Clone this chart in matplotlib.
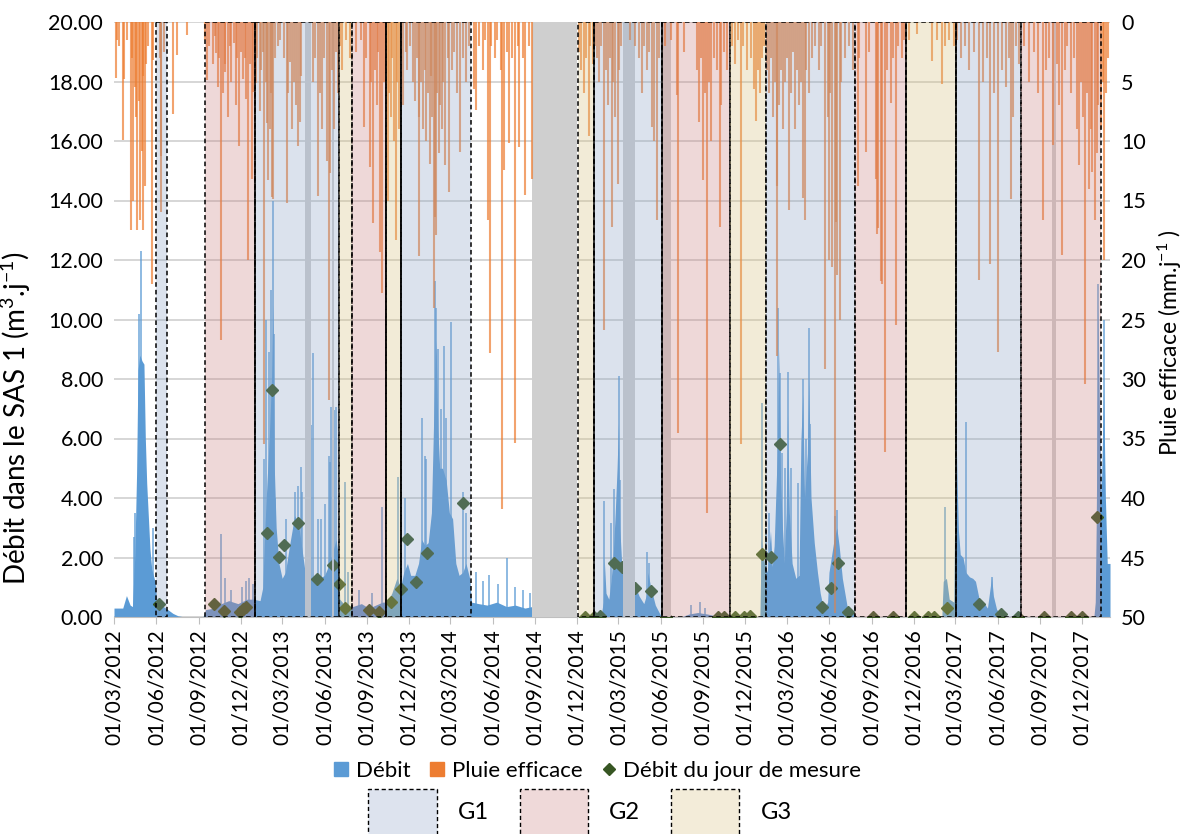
import matplotlib
matplotlib.use('Agg')
import matplotlib.pyplot as plt
import matplotlib.dates as mdates
from matplotlib.patches import Rectangle, Patch
from matplotlib.lines import Line2D
import pandas as pd

plt.rcParams['font.family'] = ['Lato', 'DejaVu Sans']
plt.rcParams['mathtext.fontset'] = 'custom'
plt.rcParams['mathtext.rm'] = 'Lato'
plt.rcParams['mathtext.it'] = 'Lato:italic'

# débit journalier (enveloppe), m3/j
debit = [
    ('2012-03-01', 0.30), ('2012-03-20', 0.30), ('2012-03-28', 0.72), ('2012-04-05', 0.40),
    ('2012-04-10', 0.35), ('2012-04-15', 2.0), ('2012-04-19', 4.8), ('2012-04-22', 8.3),
    ('2012-04-26', 8.8), ('2012-05-01', 8.6), ('2012-05-05', 8.5), ('2012-05-08', 6.0),
    ('2012-05-11', 4.5), ('2012-05-18', 2.3), ('2012-05-22', 1.6), ('2012-05-29', 1.2),
    ('2012-06-02', 0.55), ('2012-06-09', 0.42), ('2012-06-23', 0.28), ('2012-07-07', 0.12),
    ('2012-07-18', 0.04), ('2012-08-02', 0.0), ('2012-09-10', 0.0), ('2012-09-16', 0.25),
    ('2012-10-05', 0.3), ('2012-10-20', 0.45), ('2012-11-05', 0.55), ('2012-11-25', 0.45),
    ('2012-12-15', 0.6), ('2012-12-28', 0.6), ('2013-01-12', 0.55), ('2013-01-18', 1.0),
    ('2013-01-22', 2.8), ('2013-01-27', 4.5), ('2013-02-01', 6.0), ('2013-02-06', 8.0),
    ('2013-02-09', 10.5), ('2013-02-12', 5.0), ('2013-02-16', 3.0), ('2013-02-22', 1.8),
    ('2013-03-01', 1.3), ('2013-03-08', 1.5), ('2013-03-17', 2.4), ('2013-03-28', 3.4),
    ('2013-04-05', 3.2), ('2013-04-12', 2.4), ('2013-04-19', 1.6), ('2013-05-04', 1.3),
    ('2013-05-14', 1.2), ('2013-05-21', 1.3), ('2013-06-01', 1.4), ('2013-06-12', 1.8),
    ('2013-06-19', 2.2), ('2013-06-26', 2.6), ('2013-07-01', 2.0), ('2013-07-04', 0.6),
    ('2013-07-15', 0.4), ('2013-08-01', 0.35), ('2013-08-20', 0.45), ('2013-09-05', 0.3),
    ('2013-09-20', 0.4), ('2013-10-05', 0.5), ('2013-10-15', 0.5), ('2013-10-25', 0.8),
    ('2013-11-05', 1.3), ('2013-11-13', 1.0), ('2013-11-20', 1.5), ('2013-11-28', 1.8),
    ('2013-12-05', 1.4), ('2013-12-14', 1.4), ('2013-12-22', 1.8), ('2013-12-29', 2.6),
    ('2014-01-05', 2.4), ('2014-01-12', 2.5), ('2014-01-19', 3.5), ('2014-01-26', 8.0),
    ('2014-01-29', 9.3), ('2014-02-02', 6.3), ('2014-02-06', 5.0), ('2014-02-12', 5.0),
    ('2014-02-20', 4.6), ('2014-02-27', 3.5), ('2014-03-06', 3.3), ('2014-03-13', 1.8),
    ('2014-03-20', 1.4), ('2014-03-28', 1.5), ('2014-04-04', 1.8), ('2014-04-12', 1.3),
    ('2014-04-16', 0.5), ('2014-05-01', 0.45), ('2014-05-20', 0.4), ('2014-06-10', 0.5),
    ('2014-07-01', 0.35), ('2014-07-20', 0.4), ('2014-08-10', 0.3), ('2014-08-25', 0.35),
    ('2014-08-26', 0.0), ('2015-01-22', 0.0), ('2015-01-27', 0.5), ('2015-01-29', 2.0),
    ('2015-02-02', 0.8), ('2015-02-08', 0.6), ('2015-02-13', 1.2), ('2015-02-18', 2.2),
    ('2015-02-22', 3.5), ('2015-02-26', 5.0), ('2015-03-01', 6.5), ('2015-03-04', 3.0),
    ('2015-03-09', 1.5), ('2015-04-07', 1.0), ('2015-04-15', 0.7), ('2015-04-25', 0.45),
    ('2015-05-02', 0.8), ('2015-05-04', 1.5), ('2015-05-10', 1.0), ('2015-05-20', 0.4),
    ('2015-05-30', 0.1), ('2015-06-04', 0.0), ('2015-07-15', 0.0), ('2015-08-01', 0.1),
    ('2015-08-20', 0.15), ('2015-09-10', 0.1), ('2015-09-25', 0.05), ('2015-10-05', 0.0),
    ('2016-01-02', 0.0), ('2016-01-05', 2.6), ('2016-01-12', 1.8), ('2016-01-18', 1.5),
    ('2016-01-25', 2.9), ('2016-01-29', 1.7), ('2016-02-02', 2.4), ('2016-02-09', 5.7),
    ('2016-02-12', 9.0), ('2016-02-16', 4.5), ('2016-02-20', 3.0), ('2016-02-24', 1.8),
    ('2016-02-28', 3.5), ('2016-03-02', 6.8), ('2016-03-06', 3.5), ('2016-03-12', 1.8),
    ('2016-03-20', 1.3), ('2016-03-27', 1.4), ('2016-03-31', 5.9), ('2016-04-04', 7.5),
    ('2016-04-08', 4.0), ('2016-04-14', 5.5), ('2016-04-17', 8.0), ('2016-04-22', 4.0),
    ('2016-04-29', 2.5), ('2016-05-06', 1.5), ('2016-05-12', 0.8), ('2016-05-20', 0.2),
    ('2016-05-28', 0.5), ('2016-05-31', 1.5), ('2016-06-05', 2.0), ('2016-06-11', 2.6),
    ('2016-06-17', 3.0), ('2016-06-22', 2.4), ('2016-06-29', 1.3), ('2016-07-10', 0.3),
    ('2016-07-25', 0.1), ('2016-07-28', 0.0), ('2017-01-31', 0.0), ('2017-02-03', 1.2),
    ('2017-02-10', 1.3), ('2017-02-16', 0.6), ('2017-02-26', 0.5), ('2017-03-02', 6.8),
    ('2017-03-05', 4.6), ('2017-03-08', 2.9), ('2017-03-12', 2.1), ('2017-03-18', 2.0),
    ('2017-03-24', 1.5), ('2017-04-01', 1.35), ('2017-04-08', 1.3), ('2017-04-14', 1.2),
    ('2017-04-22', 0.6), ('2017-05-01', 0.5), ('2017-05-10', 0.3), ('2017-05-16', 1.0),
    ('2017-05-19', 1.35), ('2017-05-23', 0.7), ('2017-05-30', 0.25), ('2017-06-10', 0.1),
    ('2017-06-25', 0.0), ('2017-12-27', 0.0), ('2017-12-30', 0.5), ('2018-01-01', 3.0),
    ('2018-01-03', 6.6), ('2018-01-05', 10.5), ('2018-01-08', 7.0), ('2018-01-12', 4.1),
    ('2018-01-17', 7.7), ('2018-01-21', 4.0), ('2018-01-25', 1.8), ('2018-01-31', 1.8),
]

# pics de débit isolés
debit_pics = [
    ('2012-04-13', 2.7), ('2012-04-15', 3.5), ('2012-04-24', 10.2), ('2012-04-29', 12.3),
    ('2012-05-25', 3.0), ('2012-10-20', 2.8), ('2012-10-28', 1.3), ('2012-11-10', 0.9),
    ('2012-12-03', 1.0), ('2012-12-12', 1.2), ('2012-12-20', 1.3), ('2012-12-27', 1.1),
    ('2013-01-21', 5.3), ('2013-01-25', 10.0), ('2013-02-01', 8.9), ('2013-02-04', 11.0),
    ('2013-02-09', 14.0), ('2013-02-11', 9.5), ('2013-02-14', 4.0), ('2013-03-10', 3.3),
    ('2013-03-28', 4.2), ('2013-04-04', 4.4), ('2013-04-12', 5.05), ('2013-04-14', 4.2),
    ('2013-05-03', 6.45), ('2013-05-08', 8.86), ('2013-05-18', 3.3), ('2013-05-25', 3.3),
    ('2013-06-01', 3.8), ('2013-06-10', 5.4), ('2013-06-13', 5.2), ('2013-06-16', 7.07),
    ('2013-06-21', 6.96), ('2013-06-25', 7.07), ('2013-07-15', 4.55), ('2013-07-22', 1.5),
    ('2013-08-15', 0.9), ('2013-09-12', 0.8), ('2013-10-03', 3.7), ('2013-11-07', 4.7),
    ('2013-11-22', 4.0), ('2013-12-29', 6.7), ('2014-01-04', 5.4), ('2014-01-08', 5.3),
    ('2014-01-26', 11.3), ('2014-01-29', 10.4), ('2014-02-02', 9.0), ('2014-02-08', 7.0),
    ('2014-02-15', 9.1), ('2014-02-20', 6.7), ('2014-03-02', 9.9), ('2014-03-29', 4.2),
    ('2014-04-04', 3.5), ('2014-04-25', 1.5), ('2014-05-10', 1.2), ('2014-05-25', 1.4),
    ('2014-06-12', 1.1), ('2014-07-02', 2.0), ('2014-07-20', 1.0), ('2014-08-05', 0.9),
    ('2014-08-20', 0.8), ('2015-01-29', 3.9), ('2015-02-13', 3.15), ('2015-02-20', 4.3),
    ('2015-03-02', 8.1), ('2015-03-04', 4.6), ('2015-05-03', 2.2), ('2015-05-06', 1.8),
    ('2015-08-05', 0.4), ('2015-08-25', 0.5), ('2015-09-05', 0.3), ('2016-01-07', 7.2),
    ('2016-01-15', 3.0), ('2016-01-21', 3.5), ('2016-02-11', 10.4), ('2016-02-14', 8.2),
    ('2016-02-19', 5.5), ('2016-02-26', 5.0), ('2016-03-03', 8.25), ('2016-03-09', 5.0),
    ('2016-03-25', 4.5), ('2016-04-04', 8.0), ('2016-04-11', 6.0), ('2016-04-17', 9.7),
    ('2016-04-20', 6.5), ('2016-06-14', 3.4), ('2016-06-18', 3.6), ('2017-02-06', 3.7),
    ('2017-03-03', 8.6), ('2017-03-24', 6.57), ('2017-05-19', 1.35), ('2018-01-04', 11.2),
    ('2018-01-19', 10.0),
]

# pluie efficace, mm/j
pluie = [
    ('2012-03-05', 4.7), ('2012-03-07', 1.5), ('2012-03-12', 2.0), ('2012-03-20', 9.9),
    ('2012-03-23', 4.8), ('2012-03-29', 1.5), ('2012-04-06', 17.5), ('2012-04-09', 3.0),
    ('2012-04-12', 15.0), ('2012-04-15', 5.5), ('2012-04-18', 8.0), ('2012-04-21', 17.5),
    ('2012-04-25', 6.6), ('2012-04-26', 16.6), ('2012-04-30', 10.8), ('2012-05-02', 4.5),
    ('2012-05-04', 17.5), ('2012-05-07', 13.8), ('2012-05-10', 3.5), ('2012-05-14', 2.0),
    ('2012-05-22', 22.0), ('2012-05-25', 3.2), ('2012-06-09', 3.0), ('2012-06-11', 11.3),
    ('2012-06-12', 16.0), ('2012-06-17', 2.5), ('2012-07-07', 7.7), ('2012-07-15', 2.8),
    ('2012-08-07', 1.1),
    ('2012-09-15', 1.5), ('2012-09-18', 4.9), ('2012-09-24', 2.0), ('2012-10-02', 3.5),
    ('2012-10-06', 1.2), ('2012-10-09', 2.6), ('2012-10-12', 5.5), ('2012-10-16', 3.0),
    ('2012-10-20', 26.7), ('2012-10-23', 6.0), ('2012-10-27', 3.5), ('2012-10-29', 4.2),
    ('2012-11-03', 8.0), ('2012-11-07', 2.0), ('2012-11-11', 5.0), ('2012-11-16', 1.8),
    ('2012-11-20', 7.0), ('2012-11-23', 3.0), ('2012-11-27', 10.4), ('2012-12-01', 2.5),
    ('2012-12-06', 4.8), ('2012-12-10', 3.0), ('2012-12-13', 6.5), ('2012-12-17', 20.0),
    ('2012-12-21', 3.5), ('2012-12-25', 13.2), ('2012-12-28', 5.9), ('2012-12-31', 2.5),
    ('2013-01-04', 5.1), ('2013-01-06', 3.0), ('2013-01-11', 7.5), ('2013-01-14', 4.0),
    ('2013-01-18', 2.5), ('2013-01-20', 35.5), ('2013-01-24', 5.0), ('2013-01-27', 8.5),
    ('2013-01-30', 13.3), ('2013-02-02', 9.0), ('2013-02-04', 6.0), ('2013-02-07', 14.7),
    ('2013-02-09', 14.9), ('2013-02-13', 3.0), ('2013-02-19', 2.0), ('2013-02-24', 1.5),
    ('2013-03-05', 3.0), ('2013-03-11', 15.2), ('2013-03-13', 6.0), ('2013-03-17', 3.4),
    ('2013-03-22', 9.0), ('2013-03-26', 5.0), ('2013-03-30', 7.0), ('2013-04-04', 10.4),
    ('2013-04-08', 8.4), ('2013-04-12', 4.5), ('2013-05-06', 5.0), ('2013-05-11', 3.0),
    ('2013-05-18', 14.6), ('2013-05-22', 6.0), ('2013-05-26', 9.0), ('2013-05-31', 3.0),
    ('2013-06-06', 11.7), ('2013-06-10', 31.8), ('2013-06-12', 12.7), ('2013-06-17', 4.0),
    ('2013-06-21', 9.0), ('2013-06-26', 2.5), ('2013-06-30', 6.0),
    ('2013-07-04', 2.0), ('2013-07-10', 4.0), ('2013-07-17', 1.5), ('2013-07-26', 3.0),
    ('2013-08-08', 2.5), ('2013-08-20', 1.5), ('2013-08-26', 8.8), ('2013-08-31', 3.0),
    ('2013-09-07', 12.2), ('2013-09-10', 5.0), ('2013-09-14', 16.9), ('2013-09-18', 4.0),
    ('2013-09-22', 7.0), ('2013-09-26', 2.5), ('2013-09-30', 19.3), ('2013-10-04', 22.8),
    ('2013-10-08', 5.0), ('2013-10-13', 4.0), ('2013-10-16', 15.0), ('2013-10-20', 6.0),
    ('2013-10-23', 8.0), ('2013-10-26', 3.0), ('2013-10-30', 10.0), ('2013-11-03', 18.3),
    ('2013-11-06', 5.0), ('2013-11-10', 9.0),
    ('2013-11-15', 3.0), ('2013-11-19', 7.0), ('2013-11-24', 2.5), ('2013-11-28', 4.0),
    ('2013-12-03', 2.0), ('2013-12-09', 5.0), ('2013-12-14', 6.6), ('2013-12-18', 3.0),
    ('2013-12-22', 8.0), ('2013-12-24', 19.7), ('2013-12-28', 5.0), ('2013-12-31', 9.0),
    ('2014-01-04', 4.0), ('2014-01-08', 10.0), ('2014-01-12', 6.0), ('2014-01-15', 11.9),
    ('2014-01-18', 4.5), ('2014-01-21', 8.0), ('2014-01-24', 24.0), ('2014-01-26', 16.4),
    ('2014-01-28', 17.9), ('2014-01-31', 6.0), ('2014-02-04', 11.0), ('2014-02-07', 7.0),
    ('2014-02-10', 9.0), ('2014-02-14', 5.0), ('2014-02-18', 12.0), ('2014-02-23', 3.0),
    ('2014-02-27', 14.3), ('2014-03-04', 4.0), ('2014-03-10', 2.5), ('2014-03-15', 6.0),
    ('2014-03-21', 10.9), ('2014-03-28', 3.0), ('2014-04-03', 5.0), ('2014-04-11', 2.0),
    ('2014-04-22', 5.6), ('2014-04-26', 7.4), ('2014-05-03', 2.0), ('2014-05-10', 4.0),
    ('2014-05-16', 1.5), ('2014-05-21', 16.6), ('2014-05-27', 27.8), ('2014-05-29', 2.0),
    ('2014-06-05', 3.0), ('2014-06-11', 1.5), ('2014-06-18', 4.0), ('2014-06-22', 40.9),
    ('2014-06-26', 12.4), ('2014-07-01', 2.5), ('2014-07-06', 10.2), ('2014-07-12', 3.0),
    ('2014-07-20', 35.4), ('2014-07-25', 2.0), ('2014-07-29', 10.5), ('2014-08-05', 3.0),
    ('2014-08-11', 14.5), ('2014-08-18', 2.0), ('2014-08-25', 13.2),
    ('2014-12-06', 2.5), ('2014-12-10', 4.0), ('2014-12-17', 6.0), ('2014-12-21', 3.0),
    ('2014-12-26', 9.6), ('2014-12-30', 2.0), ('2015-01-04', 3.5),
    ('2015-01-10', 2.0), ('2015-01-14', 3.0), ('2015-01-18', 5.0), ('2015-01-23', 2.0),
    ('2015-01-29', 25.9), ('2015-02-03', 4.0), ('2015-02-07', 7.0), ('2015-02-11', 3.0),
    ('2015-02-14', 17.2), ('2015-02-18', 5.0), ('2015-02-22', 8.0), ('2015-02-27', 13.6),
    ('2015-03-03', 4.0), ('2015-03-07', 2.0), ('2015-03-25', 1.5), ('2015-04-05', 2.0),
    ('2015-04-15', 3.0), ('2015-04-21', 6.0), ('2015-04-26', 2.0), ('2015-05-03', 4.0),
    ('2015-05-07', 2.5), ('2015-05-13', 8.8), ('2015-05-18', 10.0), ('2015-05-24', 16.6),
    ('2015-05-29', 3.0),
    ('2015-06-09', 2.0), ('2015-06-24', 1.5), ('2015-07-07', 6.1), ('2015-07-09', 34.5),
    ('2015-07-22', 2.5), ('2015-08-19', 4.0), ('2015-08-23', 8.4), ('2015-08-28', 3.0),
    ('2015-09-01', 13.3), ('2015-09-05', 6.0), ('2015-09-09', 41.3), ('2015-09-14', 5.0),
    ('2015-09-18', 10.0), ('2015-09-25', 3.0), ('2015-10-02', 4.0), ('2015-10-07', 17.2),
    ('2015-10-10', 7.0), ('2015-10-17', 2.5), ('2015-10-23', 4.0),
    ('2015-11-03', 2.0), ('2015-11-09', 3.5), ('2015-11-16', 1.5), ('2015-11-22', 35.5),
    ('2015-11-27', 2.0), ('2015-12-06', 4.0), ('2015-12-14', 3.0), ('2015-12-21', 5.6),
    ('2015-12-25', 8.3), ('2015-12-29', 4.0), ('2016-01-03', 6.0), ('2016-01-07', 3.0),
    ('2016-01-11', 2.0),
    ('2016-01-18', 4.0), ('2016-01-22', 6.0), ('2016-01-26', 3.0), ('2016-01-31', 8.0),
    ('2016-02-04', 5.0), ('2016-02-08', 28.1), ('2016-02-09', 13.8), ('2016-02-13', 7.0),
    ('2016-02-17', 4.0), ('2016-02-21', 9.0), ('2016-02-26', 5.0), ('2016-03-01', 3.0),
    ('2016-03-06', 15.8), ('2016-03-10', 6.0), ('2016-03-14', 2.5), ('2016-03-19', 9.0),
    ('2016-03-23', 4.0), ('2016-03-27', 7.0), ('2016-04-01', 5.0), ('2016-04-05', 14.8),
    ('2016-04-09', 16.6), ('2016-04-12', 4.0), ('2016-04-18', 6.0), ('2016-04-25', 3.0),
    ('2016-05-01', 2.0), ('2016-05-10', 4.0), ('2016-05-14', 2.0), ('2016-05-22', 29.2),
    ('2016-05-28', 8.0), ('2016-05-31', 20.0), ('2016-06-03', 6.0), ('2016-06-07', 20.6),
    ('2016-06-13', 49.7), ('2016-06-16', 16.8), ('2016-06-18', 21.3), ('2016-06-23', 25.0),
    ('2016-06-26', 5.0), ('2016-07-05', 3.0), ('2016-07-13', 2.0), ('2016-07-22', 4.0),
    ('2016-08-01', 13.8), ('2016-08-05', 3.0), ('2016-08-19', 10.9), ('2016-08-26', 2.5),
    ('2016-09-09', 13.2), ('2016-09-13', 17.8), ('2016-09-15', 17.3), ('2016-09-20', 21.8),
    ('2016-09-24', 22.0), ('2016-09-29', 36.1), ('2016-10-04', 4.0), ('2016-10-12', 6.8),
    ('2016-10-17', 3.0), ('2016-10-23', 25.5), ('2016-10-28', 2.0), ('2016-11-06', 3.0),
    ('2016-11-10', 1.5),
    ('2016-11-21', 1.5), ('2016-12-08', 1.0), ('2017-01-09', 3.3), ('2017-01-20', 1.5),
    ('2017-02-01', 5.2), ('2017-02-07', 2.0), ('2017-02-15', 1.5), ('2017-02-26', 2.0),
    ('2017-03-04', 1.5), ('2017-03-13', 3.0), ('2017-03-22', 2.0), ('2017-03-31', 4.0),
    ('2017-04-11', 2.5), ('2017-04-21', 21.7), ('2017-04-30', 5.0), ('2017-05-08', 3.0),
    ('2017-05-16', 20.3), ('2017-05-24', 6.0), ('2017-06-02', 27.7), ('2017-06-11', 4.0),
    ('2017-06-19', 5.5), ('2017-06-26', 3.0), ('2017-06-30', 14.9), ('2017-07-04', 8.0),
    ('2017-07-10', 2.0), ('2017-07-17', 3.5),
    ('2017-07-28', 2.0), ('2017-08-08', 5.0), ('2017-08-18', 2.5), ('2017-08-27', 6.0),
    ('2017-09-07', 16.6), ('2017-09-14', 4.0), ('2017-09-20', 3.0), ('2017-09-29', 10.3),
    ('2017-10-07', 3.5), ('2017-10-12', 7.0), ('2017-10-19', 19.6), ('2017-10-25', 4.0),
    ('2017-10-29', 2.0), ('2017-11-07', 6.0), ('2017-11-13', 3.0), ('2017-11-20', 9.0),
    ('2017-11-24', 12.0), ('2017-11-28', 5.0), ('2017-12-03', 8.0), ('2017-12-07', 30.4),
    ('2017-12-11', 6.0), ('2017-12-16', 14.0), ('2017-12-20', 9.0), ('2017-12-24', 12.6),
    ('2017-12-29', 16.6), ('2018-01-02', 11.0), ('2018-01-06', 7.0), ('2018-01-11', 9.0),
    ('2018-01-15', 5.0), ('2018-01-17', 20.0), ('2018-01-22', 6.0), ('2018-01-26', 3.0),
]

# débit du jour de mesure
mesures = [
    ('2012-06-07', 0.43), ('2012-10-04', 0.43), ('2012-10-25', 0.20), ('2012-11-30', 0.18),
    ('2012-12-05', 0.27), ('2012-12-12', 0.35), ('2013-01-27', 2.81), ('2013-02-07', 7.63),
    ('2013-02-22', 2.03), ('2013-03-04', 2.42), ('2013-04-04', 3.17), ('2013-05-16', 1.27),
    ('2013-06-19', 1.75), ('2013-07-02', 1.10), ('2013-07-16', 0.29), ('2013-09-05', 0.24),
    ('2013-09-28', 0.18), ('2013-10-23', 0.51), ('2013-11-13', 0.95), ('2013-11-28', 2.62),
    ('2013-12-16', 1.19), ('2014-01-10', 2.14), ('2014-03-28', 3.84), ('2014-12-19', 0.01),
    ('2015-01-08', 0.0), ('2015-01-21', 0.03), ('2015-02-19', 1.83), ('2015-03-09', 1.69),
    ('2015-04-07', 0.96), ('2015-05-11', 0.88), ('2015-06-12', 0.01), ('2015-10-04', 0.0),
    ('2015-10-17', 0.0), ('2015-11-09', 0.0), ('2015-11-28', 0.0), ('2015-12-11', 0.03),
    ('2016-01-06', 2.11), ('2016-01-26', 2.03), ('2016-02-15', 5.82), ('2016-05-16', 0.35),
    ('2016-06-04', 0.99), ('2016-06-19', 1.83), ('2016-07-12', 0.18), ('2016-09-04', 0.0),
    ('2016-10-17', 0.0), ('2016-12-02', 0.0), ('2017-01-01', 0.0), ('2017-01-14', 0.0),
    ('2017-02-12', 0.29), ('2017-04-21', 0.43), ('2017-06-09', 0.10), ('2017-07-16', 0.0),
    ('2017-09-09', 0.0), ('2017-11-08', 0.0), ('2017-12-01', 0.0), ('2018-01-03', 3.35),
]

# périodes G1 / G2 / G3
periodes = [
    ('2012-06-01', '2012-06-24', 'G1'), ('2012-09-14', '2013-01-01', 'G2'),
    ('2013-01-01', '2013-07-02', 'G1'), ('2013-07-02', '2013-07-30', 'G3'),
    ('2013-07-30', '2013-10-12', 'G2'), ('2013-10-12', '2013-11-13', 'G3'),
    ('2013-11-13', '2014-04-14', 'G1'), ('2014-12-04', '2015-01-06', 'G3'),
    ('2015-01-06', '2015-06-04', 'G1'), ('2015-06-04', '2015-10-30', 'G2'),
    ('2015-10-30', '2016-01-16', 'G3'), ('2016-01-16', '2016-07-27', 'G1'),
    ('2016-07-27', '2016-11-14', 'G2'), ('2016-11-14', '2017-03-02', 'G3'),
    ('2017-03-02', '2017-07-22', 'G1'), ('2017-07-22', '2018-01-11', 'G2'),
]
limites_pleines = ['2013-01-01', '2013-10-12', '2013-11-13', '2015-01-06',
                   '2015-06-04', '2016-11-14', '2017-03-02']

# lacunes de mesure
lacunes = [
    ('2013-04-20', '2013-05-03'), ('2013-06-18', '2013-06-21'), ('2014-08-26', '2014-11-30'),
    ('2015-03-10', '2015-04-07'), ('2015-06-04', '2015-06-23'), ('2017-09-28', '2017-10-06'),
]

couleurs_voile = {'G1': (0.54, 0.635, 0.776, 0.3),
                  'G2': (0.79, 0.50, 0.50, 0.3),
                  'G3': (0.843, 0.753, 0.49, 0.3)}
couleurs_leg = {'G1': '#dde3ee', 'G2': '#efd9d9', 'G3': '#f3ecd9'}

d_dates = pd.to_datetime([d for d, v in debit])
d_vals = [v for d, v in debit]
p_dates = pd.to_datetime([d for d, v in debit_pics])
p_vals = [v for d, v in debit_pics]
r_dates = pd.to_datetime([d for d, v in pluie])
r_vals = [v for d, v in pluie]
m_dates = pd.to_datetime([d for d, v in mesures])
m_vals = [v for d, v in mesures]

fig = plt.figure(figsize=(11.89, 8.34), dpi=100)
ax = fig.add_axes([114 / 1189, 1 - 617 / 834, 996 / 1189, 595 / 834])

ax.fill_between(d_dates, 0, d_vals, color='#5b9bd5', lw=0, zorder=2)
ax.vlines(p_dates, 0, p_vals, color='#5b9bd5', lw=1.3, alpha=0.75, zorder=2)
ax.plot(m_dates, m_vals, ls='none', marker='D', ms=6.5, color='#375623', zorder=4)

ax.set_ylim(0, 20)
ax.set_yticks(range(0, 21, 2))
ax.yaxis.set_major_formatter(plt.FuncFormatter(lambda v, p: '%.2f' % v))
ax.grid(axis='y', color='#d0d0d0', lw=1.2, zorder=0)
ax.set_axisbelow(True)
ax.set_xlim(pd.Timestamp('2012-03-01'), pd.Timestamp('2018-01-31'))
ax.xaxis.set_major_locator(mdates.MonthLocator(bymonth=[3, 6, 9, 12], bymonthday=1))
ax.xaxis.set_major_formatter(mdates.DateFormatter('%d/%m/%Y'))
ax.tick_params(axis='x', rotation=90, labelsize=15, length=5, color='#bfbfbf', pad=4)
ax.tick_params(axis='y', labelsize=15.5, length=0, pad=8)
for s in ['top', 'left', 'right']:
    ax.spines[s].set_visible(False)
ax.spines['bottom'].set_color('#bfbfbf')
ax.set_ylabel('Débit dans le SAS 1 (m$^{3}$.j$^{-1}$)', fontsize=20)
ax.yaxis.set_label_coords(-0.081, 0.335)

# axe secondaire : pluie (inversé)
ax2 = ax.twinx()
ax2.set_ylim(50, 0)
ax2.set_yticks(range(0, 51, 5))
ax2.tick_params(axis='y', labelsize=15.5, length=0, pad=8)
for s in ['top', 'left', 'right', 'bottom']:
    ax2.spines[s].set_visible(False)
ax2.set_ylabel('Pluie efficace (mm.j$^{-1}$ )', fontsize=16.5)
ax2.yaxis.set_label_coords(1.046, 0.462)

for a, b in lacunes:
    ax2.axvspan(pd.Timestamp(a), pd.Timestamp(b), color='#cfcfcf', lw=0, zorder=1)

ax2.vlines(r_dates, 0, r_vals, color='#ed7d31', lw=1.5, alpha=0.7, zorder=2)

for a, b, g in periodes:
    x0 = mdates.date2num(pd.Timestamp(a))
    x1 = mdates.date2num(pd.Timestamp(b))
    ax2.add_patch(Rectangle((x0, 0), x1 - x0, 50, facecolor=couleurs_voile[g],
                            edgecolor='black', ls=(0, (3, 2)), lw=1.1, zorder=3))
for d in limites_pleines:
    ax2.axvline(pd.Timestamp(d), color='black', lw=1.1, zorder=3.5)
ax2.set_xlim(pd.Timestamp('2012-03-01'), pd.Timestamp('2018-01-31'))

# légendes
h1 = [Line2D([], [], ls='none', marker='s', ms=10, color='#5b9bd5'),
      Line2D([], [], ls='none', marker='s', ms=10, color='#ed7d31'),
      Line2D([], [], ls='none', marker='D', ms=6, color='#375623')]
fig.legend(h1, ['Débit', 'Pluie efficace', 'Débit du jour de mesure'], ncol=3,
           loc='center', bbox_to_anchor=(598 / 1189, 1 - 771 / 834), frameon=False,
           fontsize=16, handlelength=0.6, handletextpad=0.35, columnspacing=0.9)

h2 = [Patch(facecolor=couleurs_leg[g], edgecolor='black', ls=(0, (3, 2)), lw=1.0)
      for g in ['G1', 'G2', 'G3']]
fig.legend(h2, ['G1', 'G2', 'G3'], ncol=3, loc='upper center',
           bbox_to_anchor=(580 / 1189, 1 - 768 / 834), frameon=False, fontsize=17,
           handlelength=2.9, handleheight=2.6, handletextpad=0.9, columnspacing=1.3)

fig.savefig('out.png', dpi=100)
